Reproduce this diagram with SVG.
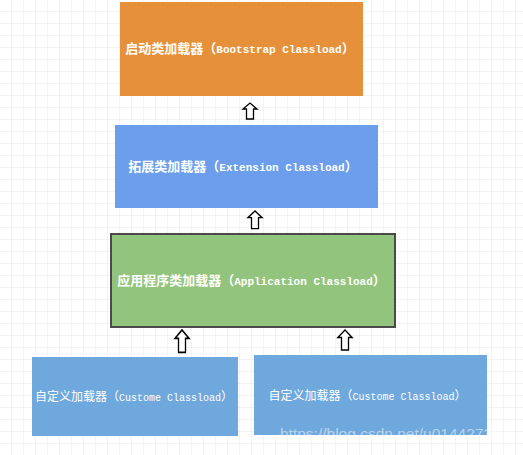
<svg xmlns="http://www.w3.org/2000/svg" width="523" height="455" viewBox="0 0 523 455">
  <defs>
    <pattern id="grid" width="12" height="12" patternUnits="userSpaceOnUse">
      <rect width="12" height="12" fill="#ffffff"/>
      <path d="M12 0 V12 M0 12 H12" stroke="#e8e8e8" stroke-width="1" fill="none"/>
    </pattern>
    <path id="uparrow" d="M-3.5 16 V6 H-7 L0 0 L7 6 H3.5 V16 Z"/>
  </defs>
  <style>
    .arrow { fill: #ffffff; stroke: #000000; stroke-width: 1.3; stroke-linejoin: miter; }
    .lbl { fill: #ffffff; text-anchor: middle; }
    .bold .cjk { font-family: "Noto Sans CJK SC", "Liberation Sans", sans-serif; font-size: 13px; font-weight: bold; }
    .bold .lat { font-family: "Liberation Mono", "DejaVu Sans Mono", monospace; font-size: 11px; font-weight: bold; }
    .thin .cjk { font-family: "Noto Sans CJK SC", "Liberation Sans", sans-serif; font-size: 12px; }
    .thin .lat { font-family: "Liberation Mono", "DejaVu Sans Mono", monospace; font-size: 10px; }
    .wm { fill: #ffffff; fill-opacity: 0.5; font-family: "Liberation Sans", Arial, sans-serif; font-size: 15.5px; }
  </style>
  <rect width="523" height="455" fill="url(#grid)"/>

  <g id="bootstrap">
    <rect x="120" y="2" width="243" height="94" fill="#e6913a"/>
    <text class="lbl bold" x="240" y="53"><tspan class="cjk">启动类加载器（</tspan><tspan class="lat">Bootstrap Classload</tspan><tspan class="cjk">）</tspan></text>
  </g>

  <g id="extension">
    <rect x="115" y="125" width="263" height="83" fill="#6d9eeb"/>
    <text class="lbl bold" x="243" y="171"><tspan class="cjk">拓展类加载器（</tspan><tspan class="lat">Extension Classload</tspan><tspan class="cjk">）</tspan></text>
  </g>

  <g id="application">
    <rect x="111" y="234" width="284" height="93" fill="#93c47d" stroke="#4a4a4a" stroke-width="2"/>
    <text class="lbl bold" x="251.5" y="285"><tspan class="cjk">应用程序类加载器（</tspan><tspan class="lat">Application Classload</tspan><tspan class="cjk">）</tspan></text>
  </g>

  <g id="custom1">
    <rect x="32" y="357" width="206" height="79" fill="#6fa8dc"/>
    <text class="lbl thin" x="134" y="401"><tspan class="cjk">自定义加载器（</tspan><tspan class="lat">Custome Classload</tspan><tspan class="cjk">）</tspan></text>
  </g>

  <g id="custom2">
    <rect x="254" y="355" width="233" height="80" fill="#6fa8dc"/>
    <text class="lbl thin" x="367.5" y="400"><tspan class="cjk">自定义加载器（</tspan><tspan class="lat">Custome Classload</tspan><tspan class="cjk">）</tspan></text>
  </g>

  <g id="connectors">
    <use href="#uparrow" class="arrow" transform="translate(250 103)"/>
    <use href="#uparrow" class="arrow" transform="translate(255 211) scale(1 1.1)"/>
    <use href="#uparrow" class="arrow" transform="translate(182 330) scale(1 1.4)"/>
    <use href="#uparrow" class="arrow" transform="translate(345 330) scale(1 1.25)"/>
  </g>

  <text class="wm" x="280" y="439">https://blog.csdn.net/u014427391</text>
</svg>
